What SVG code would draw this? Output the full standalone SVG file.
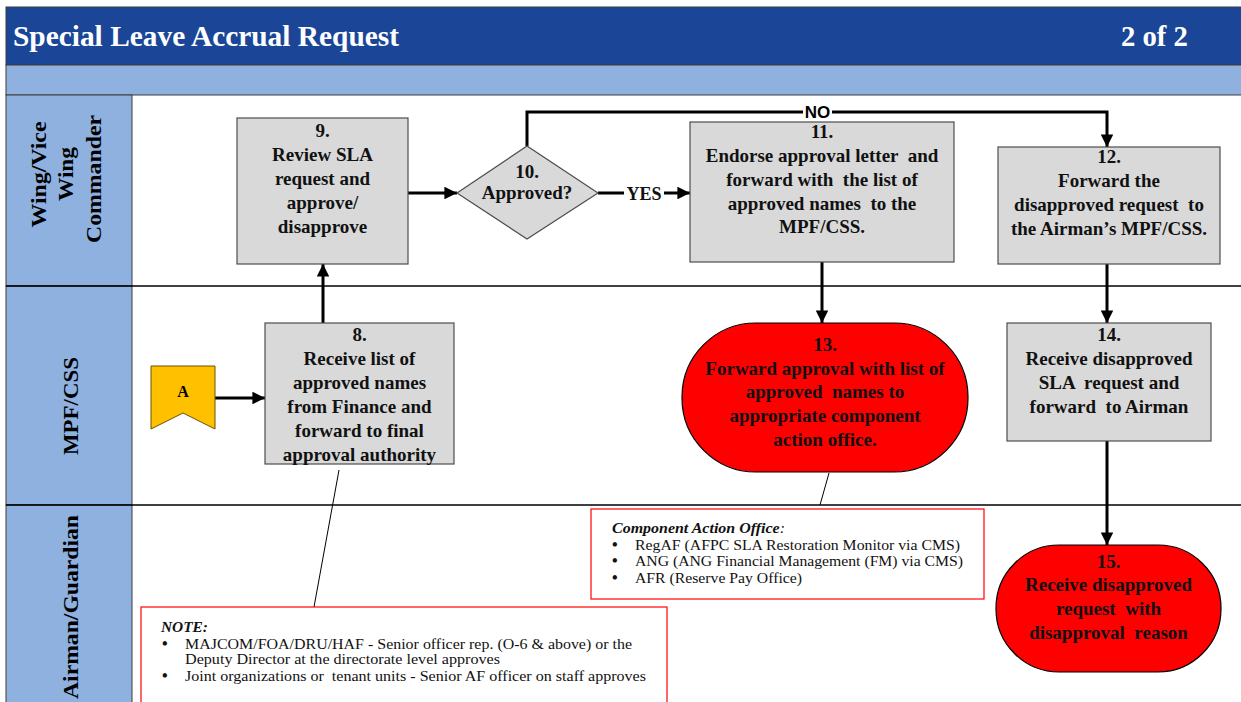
<svg xmlns="http://www.w3.org/2000/svg" width="1241" height="702" viewBox="0 0 1241 702">
  <defs>
    <marker id="arrow" viewBox="0 0 10 10" refX="10" refY="5" markerWidth="4.2" markerHeight="4.2" orient="auto" markerUnits="strokeWidth">
      <path d="M0,0 L10,5 L0,10 z" fill="#000"/>
    </marker>
    <style>
      .lane-head { fill: #8eb1e0; stroke: #3c3c3c; stroke-width: 1; }
      .divider { stroke: #000; stroke-width: 1.3; }
      .box { fill: #d9d9d9; stroke: #4d4d4d; stroke-width: 1.2; }
      .term { fill: #ff0000; stroke: #000; stroke-width: 1.2; }
      .node-text { font-family: "Liberation Serif", "Times New Roman", serif; font-weight: bold; font-size: 19px; fill: #111; text-anchor: middle; }
      .lane-text { font-family: "Liberation Serif", "Times New Roman", serif; font-weight: bold; font-size: 22px; fill: #000; text-anchor: middle; }
      .flow { fill: none; stroke: #000; stroke-width: 3; }
      .callout { fill: none; stroke: #000; stroke-width: 1; }
      .note { fill: #fff; stroke: #ff0000; stroke-width: 1.2; }
      .note-text { font-family: "Liberation Serif", "Times New Roman", serif; font-size: 14px; fill: #111; }
      .comp-text { font-family: "Liberation Serif", "Times New Roman", serif; font-size: 14.5px; fill: #111; }
      .bullet { font-family: "Liberation Serif", "Times New Roman", serif; font-size: 16px; font-weight: bold; fill: #111; }
      .note-title { font-style: italic; font-weight: bold; }
    </style>
  </defs>

  <rect x="0" y="0" width="1241" height="702" fill="#fff"/>

  <!-- title bar -->
  <g id="header">
    <rect x="6" y="7" width="1240" height="58" fill="#1b4698" stroke="#3c3c3c" stroke-width="1"/>
    <rect x="6" y="65" width="1240" height="30" fill="#8eb1e0" stroke="#3c3c3c" stroke-width="1"/>
    <text x="13" y="46" font-family="Liberation Serif, serif" font-weight="bold" font-size="28.7" fill="#fff" textLength="386" lengthAdjust="spacingAndGlyphs">Special Leave Accrual Request</text>
    <text x="1121" y="46" font-family="Liberation Serif, serif" font-weight="bold" font-size="28.7" fill="#fff">2 of 2</text>
  </g>

  <!-- swimlanes -->
  <g id="lanes">
    <rect class="lane-head" x="6" y="95" width="126" height="191"/>
    <rect class="lane-head" x="6" y="286" width="126" height="219"/>
    <rect class="lane-head" x="6" y="505" width="126" height="200"/>
    <line class="divider" x1="6" y1="286" x2="1241" y2="286"/>
    <line class="divider" x1="6" y1="505" x2="1241" y2="505"/>
    <text class="lane-text" transform="translate(46,174.5) rotate(-90)" textLength="106" lengthAdjust="spacingAndGlyphs">Wing/Vice</text>
    <text class="lane-text" transform="translate(73,174) rotate(-90)" textLength="54" lengthAdjust="spacingAndGlyphs">Wing</text>
    <text class="lane-text" transform="translate(101,179) rotate(-90)" textLength="128" lengthAdjust="spacingAndGlyphs">Commander</text>
    <text class="lane-text" transform="translate(78,406) rotate(-90)" textLength="98" lengthAdjust="spacingAndGlyphs">MPF/CSS</text>
    <text class="lane-text" transform="translate(78,607) rotate(-90)" textLength="184" lengthAdjust="spacingAndGlyphs">Airman/Guardian</text>
  </g>

  <!-- connectors -->
  <g id="connectors">
    <line class="flow" x1="215" y1="398" x2="265" y2="398" marker-end="url(#arrow)"/>
    <line class="flow" x1="323" y1="323" x2="323" y2="264" marker-end="url(#arrow)"/>
    <line class="flow" x1="408" y1="193" x2="457" y2="193" marker-end="url(#arrow)"/>
    <line class="flow" x1="598" y1="193" x2="690" y2="193" marker-end="url(#arrow)"/>
    <polyline class="flow" points="527,146 527,112 1107,112 1107,147" marker-end="url(#arrow)"/>
    <line class="flow" x1="822" y1="262" x2="822" y2="323" marker-end="url(#arrow)"/>
    <line class="flow" x1="1107" y1="264" x2="1107" y2="323" marker-end="url(#arrow)"/>
    <line class="flow" x1="1107" y1="441" x2="1107" y2="545" marker-end="url(#arrow)"/>
    <!-- branch labels -->
    <rect x="624" y="183" width="40" height="20" fill="#fff"/>
    <text x="644" y="200" font-family="Liberation Serif, serif" font-weight="bold" font-size="18" text-anchor="middle" fill="#111">YES</text>
    <rect x="803" y="103" width="29" height="18" fill="#fff"/>
    <text x="817.5" y="118" font-family="Liberation Sans, Arial, sans-serif" font-weight="bold" font-size="17" text-anchor="middle" fill="#000">NO</text>
    <!-- note callouts -->
    <line class="callout" x1="339" y1="470" x2="314" y2="607"/>
    <line class="callout" x1="829" y1="473" x2="820" y2="505"/>
  </g>

  <!-- off-page connector A -->
  <g id="node-A">
    <polygon points="151,366 215,366 215,429 183,413 151,429" fill="#ffc000" stroke="#6b5200" stroke-width="1"/>
    <text x="183" y="397" font-family="Liberation Serif, serif" font-weight="bold" font-size="16" text-anchor="middle" fill="#000">A</text>
  </g>

  <g id="node-8">
    <rect class="box" x="265" y="323" width="189" height="141"/>
    <text class="node-text" x="359.5" y="341">8.</text>
    <text class="node-text" x="359.5" y="365">Receive list of</text>
    <text class="node-text" x="359.5" y="389">approved names</text>
    <text class="node-text" x="359.5" y="413">from Finance and</text>
    <text class="node-text" x="359.5" y="437">forward to final</text>
    <text class="node-text" x="359.5" y="461">approval authority</text>
  </g>

  <g id="node-9">
    <rect class="box" x="237" y="118" width="171" height="146"/>
    <text class="node-text" x="322.5" y="137">9.</text>
    <text class="node-text" x="322.5" y="161">Review SLA</text>
    <text class="node-text" x="322.5" y="185">request and</text>
    <text class="node-text" x="322.5" y="209">approve/</text>
    <text class="node-text" x="322.5" y="233">disapprove</text>
  </g>

  <g id="node-10">
    <polygon points="457,193 527,146 598,193 527,239" fill="#d9d9d9" stroke="#4d4d4d" stroke-width="1.2"/>
    <text class="node-text" x="527" y="178">10.</text>
    <text class="node-text" x="527" y="199">Approved?</text>
  </g>

  <g id="node-11">
    <rect class="box" x="690" y="122" width="264" height="140"/>
    <text class="node-text" x="822" y="138">11.</text>
    <text class="node-text" x="822" y="162" xml:space="preserve">Endorse approval letter  and</text>
    <text class="node-text" x="822" y="186" xml:space="preserve">forward with  the list of</text>
    <text class="node-text" x="822" y="210" xml:space="preserve">approved names  to the</text>
    <text class="node-text" x="822" y="233">MPF/CSS.</text>
  </g>

  <g id="node-12">
    <rect class="box" x="998" y="147" width="222" height="117"/>
    <text class="node-text" x="1109" y="163">12.</text>
    <text class="node-text" x="1109" y="187">Forward the</text>
    <text class="node-text" x="1109" y="211" xml:space="preserve">disapproved request  to</text>
    <text class="node-text" x="1109" y="235">the Airman’s MPF/CSS.</text>
  </g>

  <g id="node-13">
    <rect class="term" x="682" y="323" width="286" height="149" rx="74" ry="74"/>
    <text class="node-text" x="825" y="351">13.</text>
    <text class="node-text" x="825" y="375">Forward approval with list of</text>
    <text class="node-text" x="825" y="398" xml:space="preserve">approved  names to</text>
    <text class="node-text" x="825" y="422">appropriate component</text>
    <text class="node-text" x="825" y="446">action office.</text>
  </g>

  <g id="node-14">
    <rect class="box" x="1007" y="323" width="204" height="118"/>
    <text class="node-text" x="1109" y="341">14.</text>
    <text class="node-text" x="1109" y="365">Receive disapproved</text>
    <text class="node-text" x="1109" y="389" xml:space="preserve">SLA  request and</text>
    <text class="node-text" x="1109" y="413" xml:space="preserve">forward  to Airman</text>
  </g>

  <g id="node-15">
    <rect class="term" x="996" y="545" width="225" height="127" rx="63" ry="63"/>
    <text class="node-text" x="1108.5" y="568">15.</text>
    <text class="node-text" x="1108.5" y="591">Receive disapproved</text>
    <text class="node-text" x="1108.5" y="615" xml:space="preserve">request  with</text>
    <text class="node-text" x="1108.5" y="639" xml:space="preserve">disapproval  reason</text>
  </g>

  <g id="note-component">
    <rect class="note" x="591" y="509" width="393" height="90"/>
    <text class="comp-text" x="612" y="533" textLength="173" lengthAdjust="spacingAndGlyphs"><tspan class="note-title">Component Action Office</tspan><tspan font-style="italic">:</tspan></text>
    <text class="bullet" x="612" y="550">•</text>
    <text class="comp-text" x="635" y="550" textLength="325" lengthAdjust="spacingAndGlyphs">RegAF (AFPC SLA Restoration Monitor via CMS)</text>
    <text class="bullet" x="612" y="566">•</text>
    <text class="comp-text" x="635" y="566" textLength="328" lengthAdjust="spacingAndGlyphs">ANG (ANG Financial Management (FM) via CMS)</text>
    <text class="bullet" x="612" y="583">•</text>
    <text class="comp-text" x="635" y="583" textLength="167" lengthAdjust="spacingAndGlyphs">AFR (Reserve Pay Office)</text>
  </g>

  <g id="note-approval">
    <rect class="note" x="141" y="607" width="526" height="110"/>
    <text class="note-text note-title" x="161" y="632" textLength="47" lengthAdjust="spacingAndGlyphs">NOTE:</text>
    <text class="bullet" x="162" y="649">•</text>
    <text class="note-text" x="185" y="649" textLength="447" lengthAdjust="spacingAndGlyphs">MAJCOM/FOA/DRU/HAF - Senior officer rep. (O-6 &amp; above) or the</text>
    <text class="note-text" x="185" y="664" textLength="315" lengthAdjust="spacingAndGlyphs">Deputy Director at the directorate level approves</text>
    <text class="bullet" x="162" y="681">•</text>
    <text class="note-text" x="185" y="681" textLength="461" lengthAdjust="spacingAndGlyphs" xml:space="preserve">Joint organizations or  tenant units - Senior AF officer on staff approves</text>
  </g>
</svg>
